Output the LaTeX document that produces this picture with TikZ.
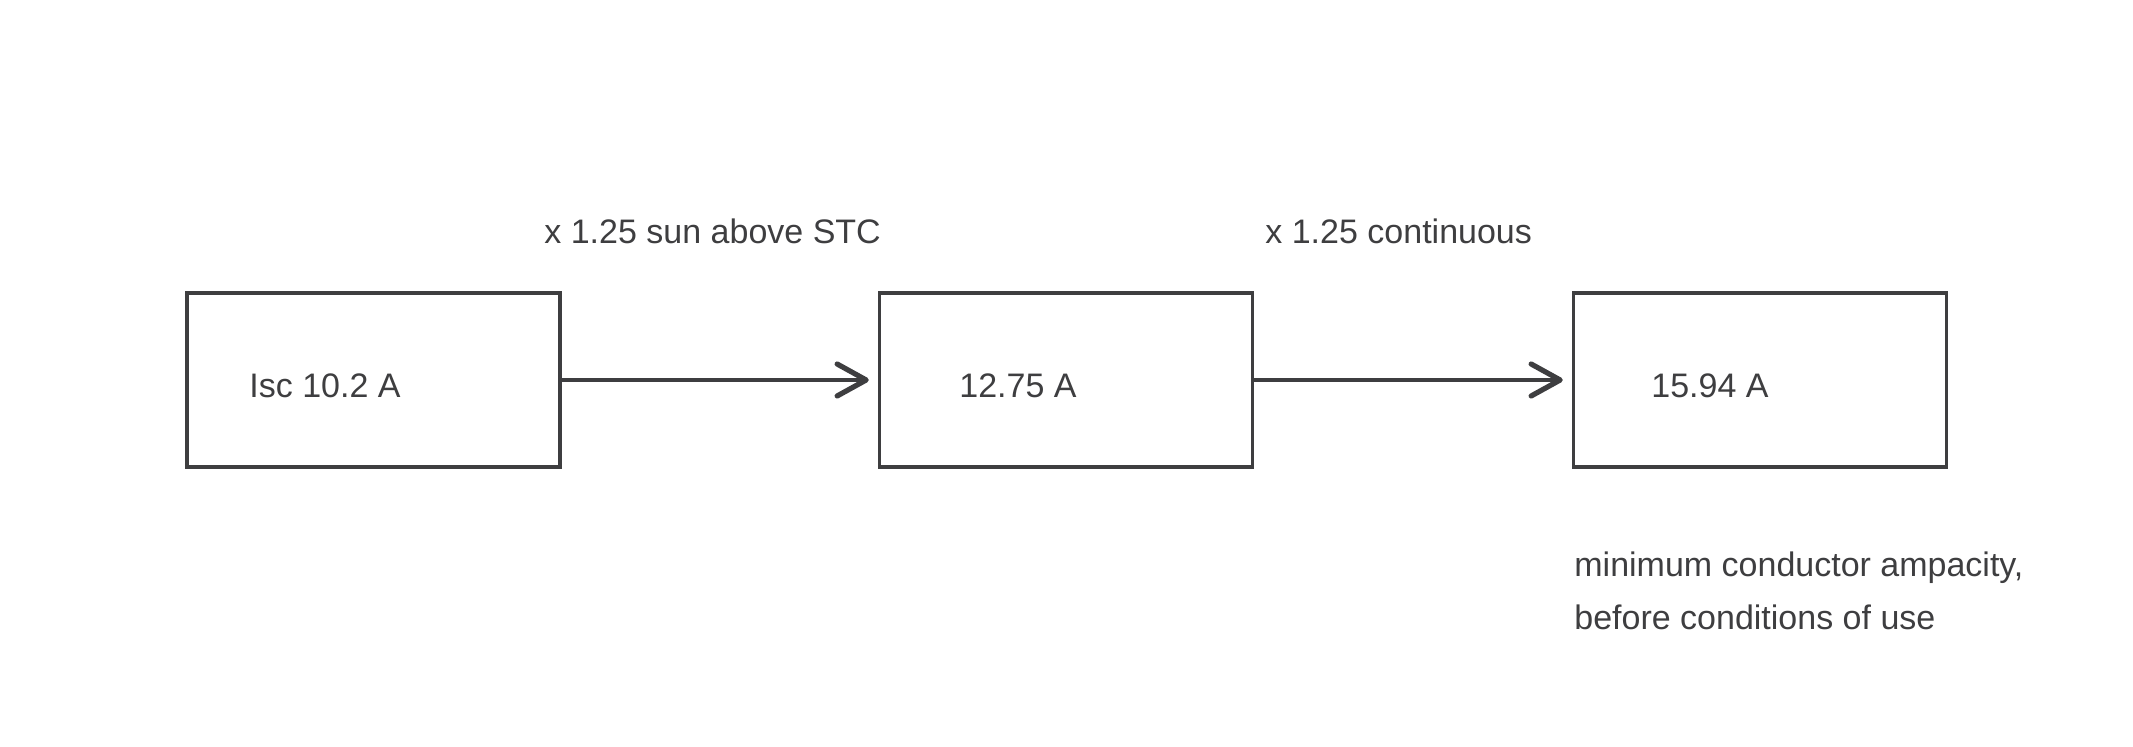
\documentclass[tikz,border=0pt]{standalone}
\usepackage{fontspec}
\setmainfont{Liberation Sans}
\usepackage{xcolor}
\usetikzlibrary{arrows.meta, positioning, calc}
\definecolor{ink}{RGB}{62,62,64}

\begin{document}
\begin{tikzpicture}[x=0.5pt, y=-0.5pt,
    ampbox/.style={draw=ink, line width=1.75pt, minimum width=186.5pt, minimum height=87pt, inner sep=0pt},
    amptext/.style={text=ink, font=\fontsize{17}{26.5}\selectfont, anchor=west, inner sep=0pt},
    flow/.style={draw=ink, line width=2.2pt, line cap=round, -{Straight Barb[length=14.5pt, width=16pt, line width=2.6pt, round]}, shorten >=4.5pt}]
    \useasboundingbox (0,0) rectangle (2133,747);

    % Draw the three current boxes
    \node[ampbox] (isc) at (373.5,380) {};
    \node[ampbox] (sun) at (1066,380) {};
    \node[ampbox] (cont) at (1760,380) {};

    % Values inside the boxes
    \node[amptext] (isclbl) at (249,386) {Isc 10.2 A};
    \node[amptext] (sunlbl) at (959,386) {12.75 A};
    \node[amptext] (contlbl) at (1651,386) {15.94 A};

    % Draw the two multiplications
    \draw[flow] (isc.east) -- (sun.west);
    \draw[flow] (sun.east) -- (cont.west);
    \node[amptext] (sunfac) at (544,231) {x 1.25 sun above STC};
    \node[amptext] (contfac) at (1265,231) {x 1.25 continuous};

    % Note under the last box
    \node[amptext, align=left] (note) at (1574,591) {minimum conductor ampacity,\\before conditions of use};
\end{tikzpicture}
\end{document}
